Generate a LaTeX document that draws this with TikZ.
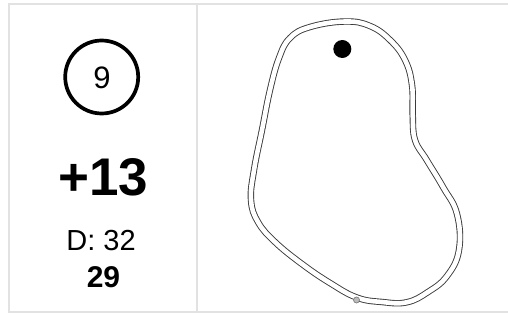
\documentclass[tikz,border=0pt]{standalone}
\usepackage{fontspec}
\setmainfont{Liberation Sans}
\definecolor{framegray}{HTML}{E2E2E2}
\definecolor{trackgray}{HTML}{3A3A3A}
\definecolor{dotgray}{HTML}{BBBBBB}
\tikzset{
  frameline/.style={draw=framegray, line width=2pt},
  track/.style={draw=trackgray, line width=0.9pt, double=white, double distance=4.6pt},
  txt/.style={inner sep=0pt, anchor=base},
}
\begin{document}
\begin{tikzpicture}[x=1pt,y=-1pt]
\useasboundingbox (0,0) rectangle (508,321);
\fill[white] (0,0) rectangle (508,321);
% frame
\draw[frameline] (510,4.5) -- (8.5,4.5) -- (8.5,312) -- (510,312);
\draw[frameline] (197,4.5) -- (197,312);
% left panel
\draw[line width=3.7pt] (101.7,77) circle (36.5);
\node[txt] (num) at (102,88) {\fontsize{31}{31}\selectfont 9};
\node[txt] (delta) at (103.5,195) {\fontsize{53}{53}\selectfont\bfseries +13};
\node[txt] (dval) at (101,250) {\fontsize{29}{29}\selectfont D: 32};
\node[txt] (score) at (103.5,287) {\fontsize{30}{30}\selectfont\bfseries 29};
% track
\draw[track] plot[smooth cycle, tension=0.7] coordinates {
  (345,21.5) (310,27) (290,38) (279,58) (270,90) (262,130) (254,170)
  (251,200) (258,222) (275,242) (302,264) (330,283) (356.7,297.5)
  (382,302) (406.7,302.3) (428,292) (447,276) (459,250)
  (457,214) (443,187) (426.7,160) (415,140) (412.7,115) (412,85)
  (405,60) (390,40) (370,26)
};
\fill[black] (342.3,49) circle (9);
\draw[draw=gray, fill=dotgray, line width=0.7pt] (356.5,300) circle (3);
\end{tikzpicture}
\end{document}
